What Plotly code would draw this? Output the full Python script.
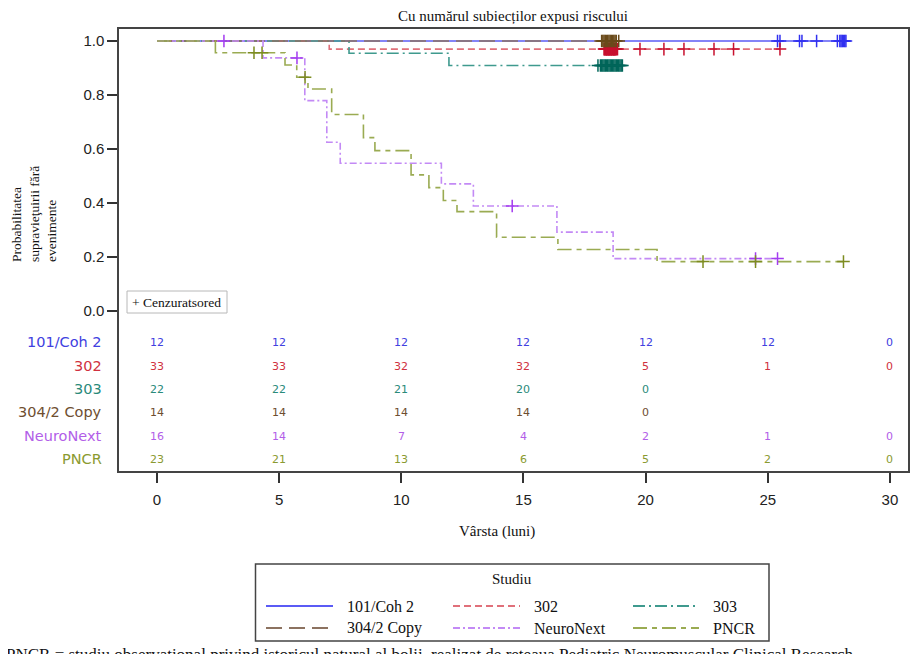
import numpy as np
import plotly.graph_objects as go

# ---------------- data ----------------
studies = ["101/Coh 2", "302", "303", "304/2 Copy", "NeuroNext", "PNCR"]

# Kaplan-Meier step points (time in months, survival probability)
coh_t = [0, 28.2]
coh_s = [1.0, 1.0]
s302_t = [0, 7.05, 25.5]
s302_s = [1.0, 0.97, 0.97]
s303_t = [0, 7.86, 11.95, 19.05]
s303_s = [1.0, 0.9545, 0.909, 0.909]
s304_t = [0, 18.9]
s304_s = [1.0, 1.0]
neuro_t = [0, 4.34, 6.05, 6.95, 7.5, 11.64, 12.95, 16.37, 18.67, 25.45]
neuro_s = [1.0, 0.9375, 0.779, 0.625, 0.547, 0.471, 0.389, 0.292, 0.194, 0.194]
pncr_t = [0, 2.39, 5.24, 5.72, 6.18, 7.15, 8.45, 8.92, 10.4, 11.13, 11.72, 12.28, 13.9, 16.41, 20.47, 28.1]
pncr_s = [1.0, 0.9565, 0.911, 0.866, 0.822, 0.728, 0.642, 0.594, 0.504, 0.457, 0.409, 0.368, 0.273, 0.228, 0.183, 0.183]

# censoring times
coh_c = [25.4, 25.5, 26.3, 26.4, 27.0, 27.85, 27.95, 28.0, 28.05, 28.1, 28.15, 28.2]
s302_c = [18.3, 18.32, 18.35, 18.38, 18.4, 18.42, 18.45, 18.47, 18.5, 18.52, 18.55, 18.57,
          18.6, 18.62, 18.65, 18.67, 18.7, 18.72, 18.75, 18.77, 18.8, 18.4, 18.5, 18.6, 18.7, 18.85,
          19.77, 20.75, 21.57, 22.8, 23.6, 25.5]
s303_c = [18.05, 18.15, 18.2, 18.25, 18.3, 18.35, 18.4, 18.45, 18.5, 18.55, 18.6, 18.65,
          18.7, 18.75, 18.8, 18.85, 18.9, 18.95, 19.0, 19.05]
s304_c = [18.2, 18.25, 18.3, 18.35, 18.4, 18.45, 18.5, 18.55, 18.6, 18.65, 18.7, 18.75, 18.8, 18.9]
neuro_c = [2.74, 5.73, 14.54, 24.5, 25.4]
pncr_c = [3.97, 4.3, 6.06, 22.35, 24.5, 28.1]

# numbers at risk
risk_times = [0, 5, 10, 15, 20, 25, 30]
risk_coh = [12, 12, 12, 12, 12, 12, 0]
risk_302 = [33, 33, 32, 32, 5, 1, 0]
risk_303 = [22, 22, 21, 20, 0, None, None]
risk_304 = [14, 14, 14, 14, 0, None, None]
risk_neuro = [16, 14, 7, 4, 2, 1, 0]
risk_pncr = [23, 21, 13, 6, 5, 2, 0]

x_ticks = [0, 5, 10, 15, 20, 25, 30]
y_ticks = [0.0, 0.2, 0.4, 0.6, 0.8, 1.0]

# ---------------- styles ----------------
line_cols = ["#5b5bf5", "#e0707a", "#3f9a8e", "#8c7260", "#c38af5", "#9aab52"]
cens_cols = ["#3030f0", "#c8102e", "#00665a", "#6a4a1a", "#a43cf0", "#7d8c20"]
text_cols = ["#4040e0", "#d03040", "#2a8a7a", "#6e4e30", "#b25ee8", "#8a9a30"]
dashes = ["solid", "7px,4px", "12px,4px,2px,4px", "16px,7px", "7px,3px,2px,3px", "14px,5px,5px,5px"]

series = [
    (coh_t, coh_s, coh_c, risk_coh),
    (s302_t, s302_s, s302_c, risk_302),
    (s303_t, s303_s, s303_c, risk_303),
    (s304_t, s304_s, s304_c, risk_304),
    (neuro_t, neuro_s, neuro_c, risk_neuro),
    (pncr_t, pncr_s, pncr_c, risk_pncr),
]

SERIF = "Liberation Serif, Times New Roman, serif"
SANS = "Liberation Sans, Arial, sans-serif"
TAB = "DejaVu Sans, Verdana, sans-serif"

OFF = 8  # page body margin
W, H = 913, 646
L, R, T, B = 111, 13, 21, 183
PW, PH = W - L - R, H - T - B


def px_x(px):
    # page pixel -> paper x
    return (px - OFF - L) / PW


def px_y(py):
    # page pixel -> paper y
    return (H - B - (py - OFF)) / PH


fig = go.Figure()


def surv_at(t, s, x):
    t = np.asarray(t)
    s = np.asarray(s)
    idx = np.searchsorted(t, x, side="right") - 1
    return s[np.clip(idx, 0, len(s) - 1)]


for i, (t, s, c, _) in enumerate(series):
    fig.add_trace(go.Scatter(
        x=t, y=s, mode="lines", line_shape="hv",
        line=dict(color=line_cols[i], width=1.6, dash=dashes[i]),
        name=studies[i], showlegend=False, hoverinfo="skip"))

for i, (t, s, c, _) in enumerate(series):
    fig.add_trace(go.Scatter(
        x=c, y=surv_at(t, s, np.asarray(c)), mode="markers",
        marker=dict(symbol="cross-thin", size=9, line=dict(color=cens_cols[i], width=1.5)),
        showlegend=False, hoverinfo="skip"))

ann = []
# risk table
row_py = [342, 366, 389, 412, 436, 459]
for i, (_, _, _, risk) in enumerate(series):
    yv = (311 - row_py[i]) / 270
    ann.append(dict(x=px_x(104), y=yv, xref="paper", yref="y", xanchor="right", yanchor="middle",
                    text=studies[i], showarrow=False, font=dict(family=TAB, size=14.5, color=text_cols[i])))
    for tx, n in zip(risk_times, risk):
        if n is None:
            continue
        ann.append(dict(x=tx, y=yv, xref="x", yref="y", xanchor="center", yanchor="middle",
                        text=str(n), showarrow=False, font=dict(family=TAB, size=11, color=text_cols[i])))

# titles
ann.append(dict(x=px_x(513), y=px_y(16), xref="paper", yref="paper", xanchor="center", yanchor="middle",
                text="Cu numărul subiecților expusi riscului",
                showarrow=False, font=dict(family=SERIF, size=15, color="#111")))
ann.append(dict(x=px_x(497), y=px_y(531), xref="paper", yref="paper", xanchor="center", yanchor="middle",
                text="Vârsta (luni)",
                showarrow=False, font=dict(family=SERIF, size=15, color="#111")))
ann.append(dict(x=px_x(34), y=px_y(214), xref="paper", yref="paper", xanchor="center", yanchor="middle",
                text="Probabilitatea<br>supravieţuirii fără<br>evenimente", textangle=-90, align="left",
                showarrow=False, font=dict(family=SERIF, size=13.5, color="#111")))
# censored box text
ann.append(dict(x=px_x(130), y=px_y(302), xref="paper", yref="paper", xanchor="left", yanchor="middle",
                text="+ Cenzuratsored", showarrow=False, font=dict(family=SERIF, size=13.5, color="#111")))

# legend (drawn)
shapes = []
shapes.append(dict(type="rect", xref="paper", yref="paper", x0=px_x(255.5), x1=px_x(769),
                   y0=px_y(641), y1=px_y(564), line=dict(color="#444", width=1.5), fillcolor="white"))
shapes.append(dict(type="rect", xref="x", yref="y", x0=(127 - 157) / 24.43, x1=(227 - 157) / 24.43,
                   y0=(311 - 313) / 270, y1=(311 - 291) / 270, line=dict(color="#b8b8b8", width=1)))
ann.append(dict(x=px_x(512), y=px_y(579), xref="paper", yref="paper", xanchor="center", yanchor="middle",
                text="Studiu", showarrow=False, font=dict(family=SERIF, size=15, color="#111")))
col_line = [(266, 333, 345), (453, 520, 532), (633, 699, 711)]
row_leg = [606, 628]
for i, name in enumerate(studies):
    r, cidx = divmod(i, 3)
    x0, x1, xt = col_line[cidx]
    yy = px_y(row_leg[r])
    shapes.append(dict(type="line", xref="paper", yref="paper", x0=px_x(x0), x1=px_x(x1), y0=yy, y1=yy,
                       line=dict(color=line_cols[i], width=1.8, dash=dashes[i])))
    ann.append(dict(x=px_x(xt), y=yy, xref="paper", yref="paper", xanchor="left", yanchor="middle",
                    text=name, showarrow=False, font=dict(family=SERIF, size=16, color="#111")))

# footnote (cut at the bottom edge, as in the source)
ann.append(dict(x=px_x(4), y=px_y(643), xref="paper", yref="paper", xanchor="left", yanchor="top",
                text="PNCR = studiu observațional privind istoricul natural al bolii, realizat de rețeaua Pediatric Neuromuscular Clinical Research",
                showarrow=False, font=dict(family=SERIF, size=17, color="#111")))

fig.update_layout(
    width=W, height=H, margin=dict(l=L, r=R, t=T, b=B),
    paper_bgcolor="white", plot_bgcolor="white",
    annotations=ann, shapes=shapes, showlegend=False,
    xaxis=dict(range=[(119 - 157) / 24.43, (908 - 157) / 24.43], tickvals=x_ticks, ticks="outside",
               ticklen=10, tickwidth=1.5, tickcolor="#333", showline=True, mirror=True,
               linecolor="#444", linewidth=1.5, showgrid=False, zeroline=False,
               tickfont=dict(family=SANS, size=15, color="#222"), ticklabelstandoff=4),
    yaxis=dict(range=[(311 - 471) / 270, (311 - 29) / 270], tickvals=y_ticks, tickformat=".1f",
               ticks="outside", ticklen=10, tickwidth=1.5, tickcolor="#333", showline=True, mirror=True,
               linecolor="#444", linewidth=1.5, showgrid=False, zeroline=False,
               tickfont=dict(family=SANS, size=15, color="#222")),
)

fig.write_html("out.html")
